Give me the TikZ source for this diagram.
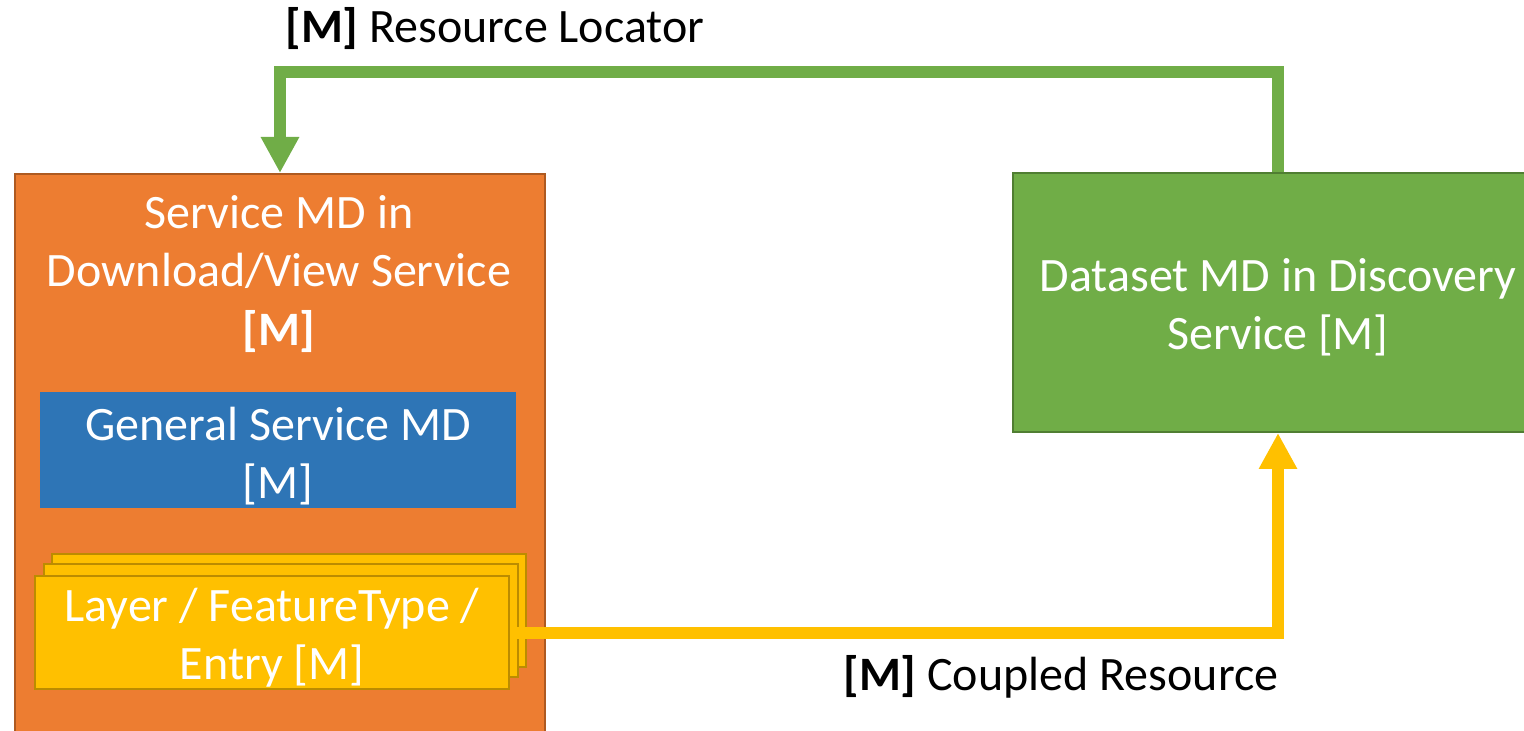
\documentclass[tikz,border=0pt]{standalone}
\usepackage{fontspec}
\setmainfont{Carlito}
\usetikzlibrary{positioning, arrows.meta}
\definecolor{svcorange}{HTML}{ED7D31}
\definecolor{svcorangeline}{HTML}{AE5A21}
\definecolor{genblue}{HTML}{2E75B6}
\definecolor{dsgreen}{HTML}{70AD47}
\definecolor{dsgreenline}{HTML}{507E32}
\definecolor{layeryellow}{HTML}{FFC000}
\definecolor{layeryellowline}{HTML}{BC8C00}

\begin{document}
\begin{tikzpicture}[x=0.5pt, y=-0.5pt,
        font=\fontsize{24}{29.25}\selectfont,
        mdbox/.style={line width=1pt, inner sep=0pt, align=center, text=white},
        layerbox/.style={mdbox, fill=layeryellow, draw=layeryellowline, minimum width=237pt, minimum height=56.5pt},
        link/.style={line width=6pt, -{Triangle[length=18pt, width=18pt]}}
    ]
    \useasboundingbox (0,0) rectangle (1524,731);
    \node[mdbox, fill=svcorange, draw=svcorangeline, anchor=north west, minimum width=265pt, minimum height=300pt] (svc) at (14,173) {};
    \node[mdbox] (svctitle) at (279,274) {Service MD in\\Download/View Service\\\textbf{[M]}};
    \node[mdbox, fill=genblue, minimum width=238pt, minimum height=58pt] (general) at (278,450) {};
    \node[mdbox] (generaltext) at ([yshift=-3pt]general.center) {General Service MD\\{[M]}};
    \node[layerbox] (layerback) at (289,610) {};
    \node[layerbox] (layermid) at (280.5,620.5) {};
    \node[layerbox] (layer) at (272,632.5) {};
    \node[mdbox] (layertext) at ([yshift=-2.5pt]layer.center) {Layer / FeatureType /\\Entry [M]};
    \node[mdbox, fill=dsgreen, draw=dsgreenline, minimum width=265pt, minimum height=129.5pt] (dataset) at (1278,302.5) {};
    \node[mdbox] (datasettext) at ([yshift=-2.5pt]dataset.center) {Dataset MD in Discovery\\Service [M]};
    \draw[link, dsgreen] (dataset.north) -- ++(0,-100) -| (svc.north);
    \draw[link, layeryellow] (layer.east) -| (dataset.south);
    \node[anchor=base west, inner sep=0pt] (locator) at (285,43) {\textbf{[M]} Resource Locator};
    \node[anchor=base west, inner sep=0pt] (coupled) at (843,690) {\textbf{[M]} Coupled Resource};
\end{tikzpicture}
\end{document}
